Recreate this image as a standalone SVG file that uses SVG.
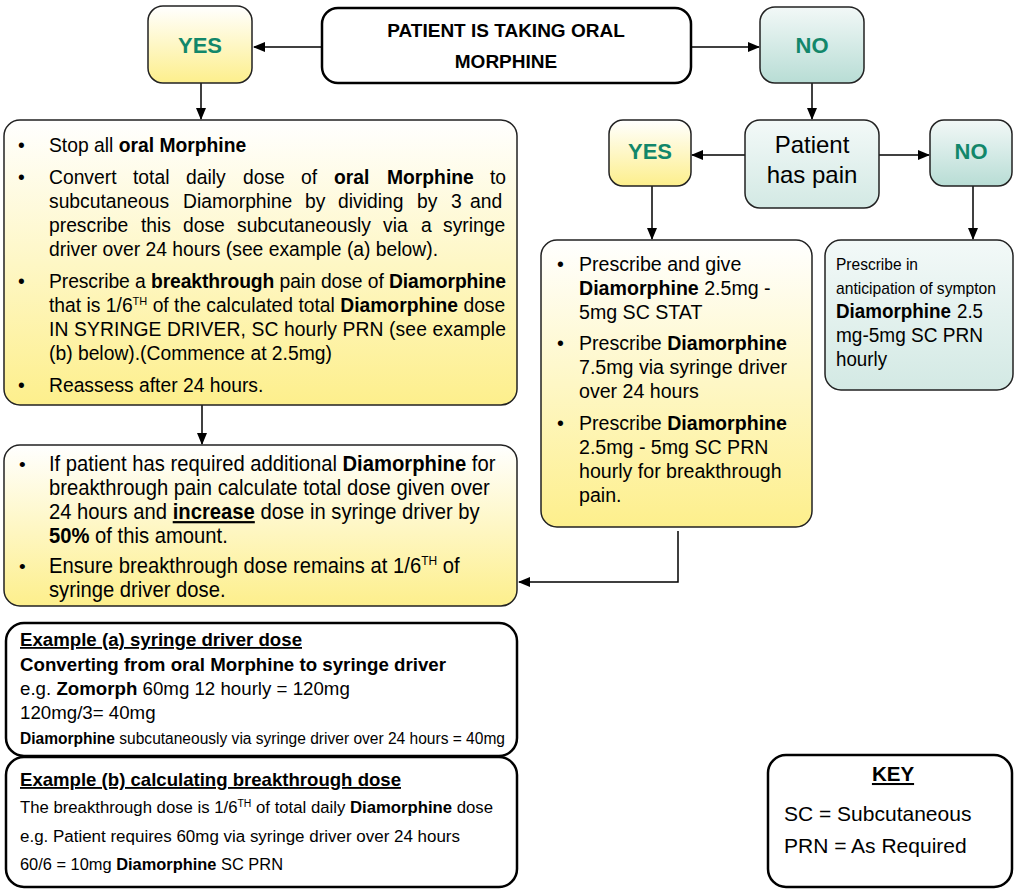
<svg xmlns="http://www.w3.org/2000/svg" width="1015" height="890" viewBox="0 0 1015 890">
<defs>
<linearGradient id="gy" x1="0" y1="0" x2="0" y2="1"><stop offset="0" stop-color="#ffffff"/><stop offset="1" stop-color="#fdef8c"/></linearGradient>
<linearGradient id="gt" x1="0" y1="0" x2="0" y2="1"><stop offset="0" stop-color="#f2f8f7"/><stop offset="1" stop-color="#b8ddd5"/></linearGradient>
<linearGradient id="gt2" x1="0" y1="0" x2="0" y2="1"><stop offset="0" stop-color="#f3f9f8"/><stop offset="1" stop-color="#d3e9e4"/></linearGradient>
<marker id="ah" markerWidth="12" markerHeight="10" refX="11" refY="5" orient="auto" markerUnits="userSpaceOnUse"><path d="M0,0 L12,5 L0,10 Z" fill="#000"/></marker>
<style>
text{font-family:"Liberation Sans",Arial,sans-serif;fill:#000}
.b{font-weight:bold}
.t{font-size:19.3px}
.m{font-size:19.6px}
.g{fill:#12876a;font-weight:bold;font-size:22px}
.bx{stroke:#222;stroke-width:1.5}
.bk{fill:#fff;stroke:#000;stroke-width:2.5}
.c{fill:none;stroke:#000;stroke-width:1.5;marker-end:url(#ah)}
</style>
</defs>
<g id="connectors">
<line class="c" x1="322" y1="47" x2="254" y2="47"/>
<line class="c" x1="691" y1="47" x2="759" y2="47"/>
<line class="c" x1="201" y1="83" x2="201" y2="119"/>
<line class="c" x1="812" y1="83" x2="812" y2="119"/>
<line class="c" x1="745" y1="155" x2="692" y2="155"/>
<line class="c" x1="879" y1="155" x2="929" y2="155"/>
<line class="c" x1="652" y1="186" x2="652" y2="239"/>
<line class="c" x1="973" y1="186" x2="973" y2="239"/>
<line class="c" x1="202" y1="405" x2="202" y2="444"/>
<polyline class="c" points="678,531 678,582 519,582"/>
</g>
<g id="start">
<rect class="bk" x="322" y="8" width="369" height="75" rx="16"/>
<text class="b" x="506" y="37" font-size="19" text-anchor="middle">PATIENT IS TAKING ORAL</text>
<text class="b" x="506" y="68" font-size="19" text-anchor="middle">MORPHINE</text>
</g>
<g id="yes1">
<rect class="bx" x="148" y="6" width="104" height="77" rx="15" fill="url(#gy)"/>
<text class="g" x="200" y="53" text-anchor="middle">YES</text>
</g>
<g id="no1">
<rect class="bx" x="760" y="7" width="104" height="76" rx="15" fill="url(#gt)"/>
<text class="g" x="812" y="53" text-anchor="middle">NO</text>
</g>
<g id="pain">
<rect class="bx" x="745" y="120" width="134" height="88" rx="15" fill="url(#gt2)"/>
<text x="812" y="153" font-size="24" text-anchor="middle">Patient</text>
<text x="812" y="183" font-size="24" text-anchor="middle">has pain</text>
</g>
<g id="yes2">
<rect class="bx" x="609" y="120" width="82" height="66" rx="14" fill="url(#gy)"/>
<text class="g" x="650" y="159" text-anchor="middle">YES</text>
</g>
<g id="no2">
<rect class="bx" x="930" y="120" width="82" height="66" rx="14" fill="url(#gt)"/>
<text class="g" x="971" y="159" text-anchor="middle">NO</text>
</g>
<g id="box1">
<rect class="bx" x="4" y="120" width="513" height="285" rx="16" fill="url(#gy)"/>
<g class="t">
<text x="18" y="152">•</text><text x="18" y="184">•</text><text x="18" y="288">•</text><text x="18" y="392">•</text>
<text x="49" y="152">Stop all <tspan class="b">oral Morphine</tspan></text>
<text y="184"><tspan x="49">Convert</tspan><tspan x="133">total</tspan><tspan x="186">daily</tspan><tspan x="243">dose</tspan><tspan x="301">of</tspan><tspan x="334" class="b">oral</tspan><tspan x="387" class="b">Morphine</tspan><tspan x="490">to</tspan></text>
<text y="208"><tspan x="49">subcutaneous</tspan><tspan x="183">Diamorphine</tspan><tspan x="305">by</tspan><tspan x="338">dividing</tspan><tspan x="417">by</tspan><tspan x="451">3</tspan><tspan x="470">and</tspan></text>
<text y="232"><tspan x="49">prescribe</tspan><tspan x="141">this</tspan><tspan x="183">dose</tspan><tspan x="237">subcutaneously</tspan><tspan x="383">via</tspan><tspan x="421">a</tspan><tspan x="443">syringe</tspan></text>
<text x="49" y="256">driver over 24 hours (see example (a) below).</text>
<text x="49" y="288" textLength="457" lengthAdjust="spacing">Prescribe a <tspan class="b">breakthrough</tspan> pain dose of <tspan class="b">Diamorphine</tspan></text>
<text x="49" y="312">that is 1/6<tspan font-size="11" dy="-7">TH</tspan><tspan dy="7"> of the calculated total </tspan><tspan class="b">Diamorphine</tspan> dose</text>
<text x="49" y="336" textLength="457" lengthAdjust="spacing">IN SYRINGE DRIVER, SC hourly PRN (see example</text>
<text x="49" y="360">(b) below).(Commence at 2.5mg)</text>
<text x="49" y="392">Reassess after 24 hours.</text>
</g>
</g>
<g id="box2">
<rect class="bx" x="4" y="445" width="513" height="161" rx="16" fill="url(#gy)"/>
<text x="19" y="471" font-size="19">•</text><text x="19" y="573" font-size="19">•</text>
<g font-size="22" transform="translate(49,0) scale(0.92,1) translate(-49,0)">
<text x="49" y="471">If patient has required additional <tspan class="b">Diamorphine</tspan> for</text>
<text x="49" y="495">breakthrough pain calculate total dose given over</text>
<text x="49" y="519">24 hours and <tspan class="b" text-decoration="underline">increase</tspan> dose in syringe driver by</text>
<text x="49" y="543"><tspan class="b">50%</tspan> of this amount.</text>
<text x="49" y="573">Ensure breakthrough dose remains at 1/6<tspan font-size="13" dy="-8">TH</tspan><tspan dy="8"> of</tspan></text>
<text x="49" y="597">syringe driver dose.</text>
</g>
</g>
<g id="box3">
<rect class="bx" x="541" y="240" width="271" height="287" rx="16" fill="url(#gy)"/>
<g class="m">
<text x="557" y="271">•</text><text x="557" y="350">•</text><text x="557" y="430">•</text>
<text x="579" y="271">Prescribe and give</text>
<text x="579" y="295"><tspan class="b">Diamorphine</tspan> 2.5mg -</text>
<text x="579" y="319">5mg SC STAT</text>
<text x="579" y="350">Prescribe <tspan class="b">Diamorphine</tspan></text>
<text x="579" y="374">7.5mg via syringe driver</text>
<text x="579" y="398">over 24 hours</text>
<text x="579" y="430">Prescribe <tspan class="b">Diamorphine</tspan></text>
<text x="579" y="454">2.5mg - 5mg SC PRN</text>
<text x="579" y="478">hourly for breakthrough</text>
<text x="579" y="502">pain.</text>
</g>
</g>
<g id="box4">
<rect class="bx" x="825" y="240" width="188" height="150" rx="16" fill="url(#gt2)"/>
<text x="836" y="270" font-size="17" textLength="82" lengthAdjust="spacingAndGlyphs">Prescribe in</text>
<text x="836" y="294" font-size="17" textLength="160" lengthAdjust="spacingAndGlyphs">anticipation of sympton</text>
<text x="836" y="318" font-size="19.5" class="b" textLength="115" lengthAdjust="spacingAndGlyphs">Diamorphine</text>
<text x="957" y="318" font-size="19.5" textLength="26" lengthAdjust="spacingAndGlyphs">2.5</text>
<text x="836" y="342" font-size="19.5" textLength="147" lengthAdjust="spacingAndGlyphs">mg-5mg SC PRN</text>
<text x="836" y="366" font-size="19.5" textLength="51" lengthAdjust="spacingAndGlyphs">hourly</text>
</g>
<g id="exa">
<rect class="bk" x="6" y="623" width="511" height="133" rx="18"/>
<text x="20" y="646" font-size="18" class="b" text-decoration="underline" textLength="282" lengthAdjust="spacingAndGlyphs">Example (a) syringe driver dose</text>
<text x="20" y="671" font-size="18.5" class="b" textLength="426" lengthAdjust="spacingAndGlyphs">Converting from oral Morphine to syringe driver</text>
<text x="20" y="695" font-size="18.7">e.g. <tspan class="b">Zomorph</tspan> 60mg 12 hourly = 120mg</text>
<text x="20" y="719" font-size="18.7">120mg/3= 40mg</text>
<text x="20" y="744" font-size="16" textLength="485" lengthAdjust="spacingAndGlyphs"><tspan class="b">Diamorphine</tspan> subcutaneously via syringe driver over 24 hours = 40mg</text>
</g>
<g id="exb">
<rect class="bk" x="6" y="757" width="511" height="130" rx="18"/>
<text x="20" y="786" font-size="18.5" class="b" text-decoration="underline" textLength="381" lengthAdjust="spacingAndGlyphs">Example (b) calculating breakthrough dose</text>
<text x="20" y="813" font-size="16" textLength="473" lengthAdjust="spacingAndGlyphs">The breakthrough dose is 1/6<tspan font-size="10" dy="-6">TH</tspan><tspan dy="6"> of total daily </tspan><tspan class="b">Diamorphine</tspan> dose</text>
<text x="20" y="842" font-size="16" textLength="440" lengthAdjust="spacingAndGlyphs">e.g. Patient requires 60mg  via syringe driver over 24 hours</text>
<text x="20" y="870" font-size="16" textLength="263" lengthAdjust="spacingAndGlyphs">60/6 = 10mg <tspan class="b">Diamorphine</tspan> SC PRN</text>
</g>
<g id="key">
<rect class="bk" x="768" y="755" width="244" height="132" rx="18"/>
<text x="893" y="781" font-size="20.5" class="b" text-anchor="middle" text-decoration="underline">KEY</text>
<text x="784" y="821" font-size="21">SC = Subcutaneous</text>
<text x="784" y="853" font-size="21">PRN = As Required</text>
</g>
</svg>
